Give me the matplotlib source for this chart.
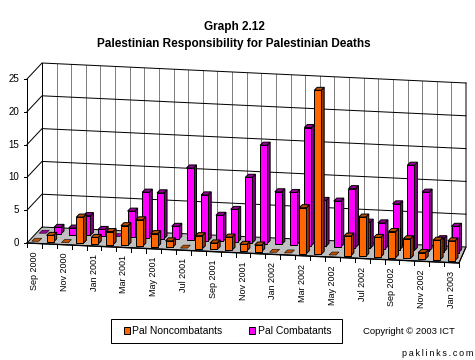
import matplotlib
matplotlib.use('Agg')
import matplotlib.pyplot as plt
from matplotlib.patches import Polygon, Rectangle

months = ['Sep 2000', 'Oct 2000', 'Nov 2000', 'Dec 2000', 'Jan 2001', 'Feb 2001', 'Mar 2001', 'Apr 2001',
          'May 2001', 'Jun 2001', 'Jul 2001', 'Aug 2001', 'Sep 2001', 'Oct 2001', 'Nov 2001', 'Dec 2001',
          'Jan 2002', 'Feb 2002', 'Mar 2002', 'Apr 2002', 'May 2002', 'Jun 2002', 'Jul 2002', 'Aug 2002',
          'Sep 2002', 'Oct 2002', 'Nov 2002', 'Dec 2002', 'Jan 2003']
noncombatants = [0, 1, 0, 4, 1, 2, 3, 4, 2, 1, 0, 2, 1, 2, 1, 1, 0, 0, 7, 25, 0, 3, 6, 3, 4, 3, 1, 3, 3]
combatants = [0, 1, 1, 3, 1, 0, 4, 7, 7, 2, 11, 7, 4, 5, 10, 15, 8, 8, 18, 7, 7, 9, 4, 4, 7, 13, 9, 2, 4]
y_ticks = [0, 5, 10, 15, 20, 25]

plt.rcParams['font.family'] = ['Liberation Sans', 'DejaVu Sans']

# corners of the fake 3d box, in image pixels
front_left = (27, 243)
front_right = (459, 263)
back_left = (42, 227)
back_right = (466, 247)
unit = 6.56  # pixels per death
n = len(months)
thin = 0.72  # one pixel at dpi 100


def proj(cat, depth, value=0):
    # cat in category units along the front, depth 0 front .. 1 back
    u = cat / n
    fx = front_left[0] + (front_right[0] - front_left[0]) * u
    fy = front_left[1] + (front_right[1] - front_left[1]) * u
    bx = back_left[0] + (back_right[0] - back_left[0]) * u
    by = back_left[1] + (back_right[1] - back_left[1]) * u
    return (fx + (bx - fx) * depth, fy + (by - fy) * depth - value * unit)


def draw_bar(ax, cat, depth, value, front, shade, top):
    x, y = proj(cat, depth)
    w = 7
    d = 3
    h = value * unit
    if value == 0:
        ax.add_patch(Polygon([(x, y), (x + w, y), (x + w + d, y - d), (x + d, y - d)],
                             fc=top, ec='black', lw=0.4, zorder=5))
        return
    ax.add_patch(Polygon([(x + w, y), (x + w + d, y - d), (x + w + d, y - h - d), (x + w, y - h)],
                         fc=shade, ec='black', lw=thin, zorder=5))
    ax.add_patch(Polygon([(x, y - h), (x + w, y - h), (x + w + d, y - h - d), (x + d, y - h - d)],
                         fc=top, ec='black', lw=thin, zorder=5))
    ax.add_patch(Rectangle((x, y - h), w, h, fc=front, ec='black', lw=thin, zorder=5))


fig = plt.figure(figsize=(4.75, 3.6), dpi=100)
ax = fig.add_axes([0, 0, 1, 1])
ax.set_xlim(0, 475)
ax.set_ylim(360, 0)
ax.axis('off')

ax.text(234, 27, 'Graph 2.12', ha='center', va='center', fontsize=8.5, fontweight='bold')
ax.text(234, 44, 'Palestinian Responsibility for Palestinian Deaths', ha='center', va='center',
        fontsize=8.5, fontweight='bold')

# floor
ax.add_patch(Polygon([proj(0, 0), proj(n, 0), proj(n, 1), proj(0, 1)], fc='#c0c0c0', ec='black', lw=thin, zorder=1))

# vertical grid on back wall
for i in range(1, n):
    ax.plot(*zip(proj(i, 1), proj(i, 1, 25)), color='#808080', lw=thin, zorder=2)

# horizontal grid on back and left wall
for t in y_ticks:
    if t > 0:
        ax.plot(*zip(proj(0, 0, t), proj(0, 1, t), proj(n, 1, t)), color='black', lw=thin, zorder=3)
    ax.plot([front_left[0] - 3, front_left[0]], [proj(0, 0, t)[1]] * 2, color='black', lw=thin, zorder=3)
    ax.text(front_left[0] - 8, proj(0, 0, t)[1], str(t), ha='right', va='center', fontsize=7)

ax.plot(*zip(proj(0, 0), proj(0, 0, 25)), color='black', lw=thin, zorder=3)
ax.plot(*zip(proj(0, 1), proj(0, 1, 25)), color='black', lw=thin, zorder=3)
ax.plot(*zip(proj(n, 0), proj(n, 1), proj(n, 1, 25)), color='black', lw=thin, zorder=3)

# ticks and month labels
ax.plot(*zip(proj(0, 0), proj(n, 0)), color='black', lw=1, zorder=4)
for i in range(n + 1):
    x, y = proj(i, 0)
    ax.plot([x, x], [y, y + 4], color='black', lw=thin, zorder=4)
for i in range(0, n, 2):
    x, y = proj(i + 0.5, 0)
    ax.text(x, y + 8, months[i], rotation=90, ha='center', va='top', fontsize=6.5)

for i, v in enumerate(combatants):
    draw_bar(ax, i + 0.2, 0.62, v, '#ff00ff', '#800080', '#a000a0')
for i, v in enumerate(noncombatants):
    draw_bar(ax, i + 0.2, 0.12, v, '#ff6600', '#993300', '#c05000')

# legend
ax.add_patch(Rectangle((111, 319), 231, 24, fc='white', ec='black', lw=thin))
ax.add_patch(Rectangle((123.5, 327), 6, 7, fc='#ff6600', ec='black', lw=thin))
ax.text(132.5, 330.5, 'Pal Noncombatants', ha='left', va='center', fontsize=7.5)
ax.add_patch(Rectangle((249, 327), 6, 7, fc='#ff00ff', ec='black', lw=thin))
ax.text(257.5, 330.5, 'Pal Combatants', ha='left', va='center', fontsize=7.5)

ax.text(363, 332, 'Copyright © 2003 ICT', ha='left', va='center', fontsize=6.8)
ax.text(473, 354, 'p\u2009a\u2009k\u2009l\u2009i\u2009n\u2009k\u2009s\u2009.\u2009c\u2009o\u2009m', ha='right', va='center', fontsize=6.5)

fig.savefig('out.png', dpi=100)
